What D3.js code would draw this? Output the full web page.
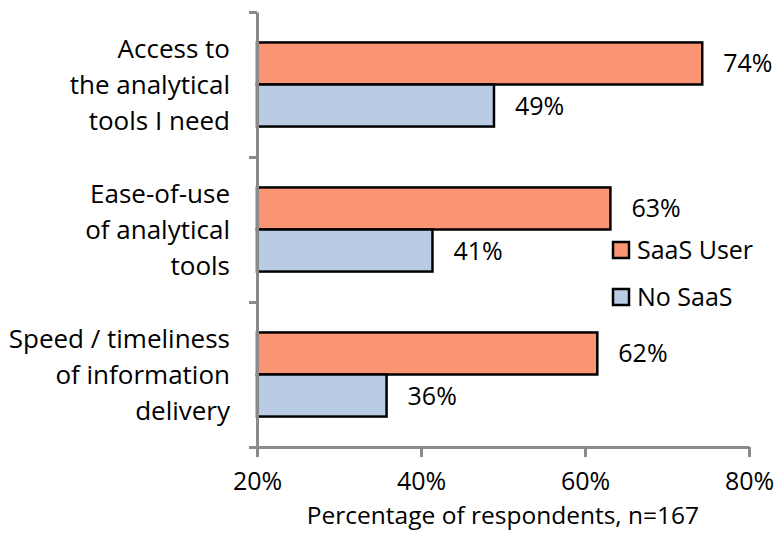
<!DOCTYPE html>
<html>
<head>
<meta charset="utf-8">
<script src="https://cdn.jsdelivr.net/npm/d3@7"></script>
<style>
  body { margin: 0; background: #fff; }
  svg text { font-family: "Open Sans", sans-serif; fill: #000; }
</style>
</head>
<body>
<div id="chart"></div>
<script>
var categories = [
    ["Access to", "the analytical", "tools I need"],
    ["Ease-of-use", "of analytical", "tools"],
    ["Speed / timeliness", "of information", "delivery"]
];
var seriesNames = ["SaaS User", "No SaaS"];
var saasUser = [74.3, 63.1, 61.5];
var noSaas = [48.9, 41.4, 35.8];
var valueLabels = [["74%", "49%"], ["63%", "41%"], ["62%", "36%"]];
var xTicks = [20, 40, 60, 80];

var width = 778, height = 533;
var colors = ["#f99572", "#b9cce4"];
var AXIS = "#8a8a8a";

var svg = d3.select("#chart").append("svg")
    .attr("width", width)
    .attr("height", height);

var x = d3.scaleLinear().domain([20, 80]).range([257, 749]);
var y = d3.scaleBand().domain(d3.range(categories.length)).range([12, 447])
    .paddingInner(0.42).paddingOuter(0.21);
var sub = d3.scaleBand().domain([0, 1]).range([0, y.bandwidth()]);

var rows = categories.map(function(c, i) {
    return [saasUser[i], noSaas[i]];
});

var groups = svg.selectAll("g.cat")
    .data(rows)
    .enter().append("g")
    .attr("class", "cat")
    .attr("transform", function(d, i) { return "translate(0," + y(i) + ")"; });

groups.selectAll("rect")
    .data(function(d) { return d; })
    .enter().append("rect")
    .attr("x", x(20))
    .attr("y", function(d, j) { return sub(j); })
    .attr("width", function(d) { return x(d) - x(20); })
    .attr("height", sub.bandwidth())
    .attr("fill", function(d, j) { return colors[j]; })
    .attr("stroke", "#000")
    .attr("stroke-width", 2.5);

groups.selectAll("text.val")
    .data(function(d, i) { return d.map(function(v, j) { return { v: v, t: valueLabels[i][j] }; }); })
    .enter().append("text")
    .attr("class", "val")
    .attr("x", function(d) { return x(d.v) + 21; })
    .attr("y", function(d, j) { return sub(j) + sub.bandwidth() / 2; })
    .attr("dy", "0.36em")
    .style("font-size", "25px")
    .text(function(d) { return d.t; });

// y axis with ticks between categories
var yEdges = d3.scaleLinear().domain([0, 3]).range([12, 447]);
svg.append("g")
    .attr("transform", "translate(" + x(20) + ",0)")
    .call(d3.axisLeft(yEdges).tickValues([0, 1, 2, 3]).tickFormat("").tickSize(8).tickSizeOuter(0))
    .call(function(g) {
        g.selectAll("path, line").attr("stroke", AXIS).attr("stroke-width", 3);
    });

// category labels
svg.selectAll("text.cat")
    .data(categories)
    .enter().append("text")
    .attr("class", "cat")
    .attr("text-anchor", "end")
    .style("font-size", "26px")
    .each(function(lines, i) {
        var cy = y(i) + y.bandwidth() / 2;
        d3.select(this).selectAll("tspan")
            .data(lines)
            .enter().append("tspan")
            .attr("x", 230)
            .attr("y", function(l, k) { return cy + (k - 1) * 36; })
            .attr("dy", "0.36em")
            .text(function(l) { return l; });
    });

// x axis
var xAxis = svg.append("g")
    .attr("transform", "translate(0,447)")
    .call(d3.axisBottom(x).tickValues(xTicks).tickFormat(function(d) { return d + "%"; })
        .tickSize(10).tickSizeOuter(0).tickPadding(15));
xAxis.selectAll("path, line").attr("stroke", AXIS).attr("stroke-width", 3);
xAxis.selectAll("text").style("font-size", "25px").attr("fill", "#000");

svg.append("text")
    .attr("x", 503)
    .attr("y", 515)
    .attr("dy", "0.36em")
    .attr("text-anchor", "middle")
    .style("font-size", "24.5px")
    .text("Percentage of respondents, n=167");

// legend
var legend = svg.selectAll("g.legend")
    .data(seriesNames)
    .enter().append("g")
    .attr("class", "legend")
    .attr("transform", function(d, i) { return "translate(613," + (250 + i * 47) + ")"; });

legend.append("rect")
    .attr("x", 0).attr("y", -8)
    .attr("width", 16).attr("height", 16)
    .attr("fill", function(d, i) { return colors[i]; })
    .attr("stroke", "#000")
    .attr("stroke-width", 2.5);

legend.append("text")
    .attr("x", 24)
    .attr("dy", "0.36em")
    .style("font-size", "25px")
    .text(function(d) { return d; });
</script>
</body>
</html>
